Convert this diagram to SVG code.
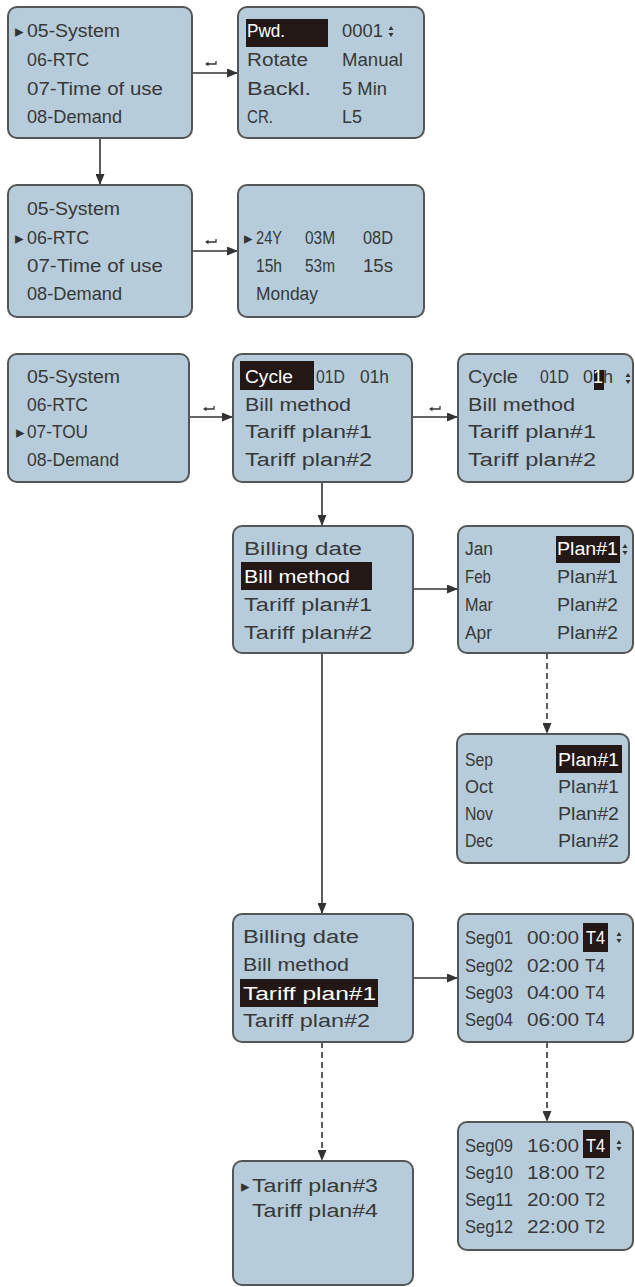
<svg xmlns="http://www.w3.org/2000/svg" width="635" height="1287" viewBox="0 0 635 1287">
  <style>
    .box { fill: #b6ccda; stroke: #555; stroke-width: 2; }
    .t { font-family: "Liberation Sans Narrow", "Liberation Sans", sans-serif; font-size: 18px; fill: #383838; }
    .w { fill: #fff; }
    .hl { fill: #231815; }
    .ptr { font-family: "DejaVu Sans", sans-serif; font-size: 17px; fill: #333; }
    .conn { stroke: #333; stroke-width: 1.6; fill: none; }
    .dash { stroke-dasharray: 6 4; }
    .ico { fill: #333; }
    .retl { stroke: #333; stroke-width: 1.3; fill: none; }
  </style>
  <defs>
    <marker id="arr" markerUnits="userSpaceOnUse" markerWidth="11" markerHeight="9" refX="11" refY="4.5" orient="auto">
      <path d="M0,0 L11,4.5 L0,9 Z" fill="#333"/>
    </marker>
    <!-- up/down adjust indicator -->
    <g id="updown" class="ico">
      <polygon points="0,0 -2.5,4 2.5,4"/>
      <polygon points="-2.5,7 2.5,7 0,11"/>
    </g>
    <!-- enter key symbol -->
    <g id="ret">
      <path class="retl" d="M2.5,0 H11 V-3"/>
      <polygon class="ico" points="0,0 3.5,-2.2 3.5,2.2"/>
    </g>
  </defs>

  <!-- connectors -->
  <g id="connectors">
    <line class="conn" x1="192" y1="73" x2="238" y2="73" marker-end="url(#arr)"/>
    <use href="#ret" x="205" y="64"/>
    <line class="conn" x1="100" y1="138" x2="100" y2="185" marker-end="url(#arr)"/>
    <line class="conn" x1="192" y1="251" x2="238" y2="251" marker-end="url(#arr)"/>
    <use href="#ret" x="205" y="242"/>
    <line class="conn" x1="189" y1="417" x2="233" y2="417" marker-end="url(#arr)"/>
    <use href="#ret" x="203" y="409"/>
    <line class="conn" x1="412" y1="417" x2="458" y2="417" marker-end="url(#arr)"/>
    <use href="#ret" x="429" y="409"/>
    <line class="conn" x1="322" y1="482" x2="322" y2="526" marker-end="url(#arr)"/>
    <line class="conn" x1="413" y1="589" x2="458" y2="589" marker-end="url(#arr)"/>
    <line class="conn dash" x1="547" y1="653" x2="547" y2="734" marker-end="url(#arr)"/>
    <line class="conn" x1="322" y1="653" x2="322" y2="914" marker-end="url(#arr)"/>
    <line class="conn" x1="413" y1="978" x2="458" y2="978" marker-end="url(#arr)"/>
    <line class="conn dash" x1="547" y1="1042" x2="547" y2="1122" marker-end="url(#arr)"/>
    <line class="conn dash" x1="322" y1="1042" x2="322" y2="1161" marker-end="url(#arr)"/>
  </g>

  <!-- main menu, System selected -->
  <g id="menu-system">
    <rect class="box" x="8" y="7" width="184" height="131" rx="9"/>
    <text class="ptr" x="15" y="37">▸</text>
    <text class="t" x="27" y="37" textLength="93" lengthAdjust="spacingAndGlyphs">05-System</text>
    <text class="t" x="27" y="66" textLength="62" lengthAdjust="spacingAndGlyphs">06-RTC</text>
    <text class="t" x="27" y="95" textLength="136" lengthAdjust="spacingAndGlyphs">07-Time of use</text>
    <text class="t" x="27" y="123" textLength="95" lengthAdjust="spacingAndGlyphs">08-Demand</text>
  </g>

  <!-- system settings -->
  <g id="system-settings">
    <rect class="box" x="238" y="7" width="186" height="131" rx="9"/>
    <rect class="hl" x="246" y="19" width="82" height="28"/>
    <text class="t w" x="247" y="37" textLength="38" lengthAdjust="spacingAndGlyphs">Pwd.</text>
    <text class="t" x="342" y="37" textLength="41" lengthAdjust="spacingAndGlyphs">0001</text>
    <use href="#updown" x="391" y="26"/>
    <text class="t" x="247" y="66" textLength="61" lengthAdjust="spacingAndGlyphs">Rotate</text>
    <text class="t" x="342" y="66" textLength="61" lengthAdjust="spacingAndGlyphs">Manual</text>
    <text class="t" x="247" y="95" textLength="64" lengthAdjust="spacingAndGlyphs">Backl.</text>
    <text class="t" x="342" y="95" textLength="45" lengthAdjust="spacingAndGlyphs">5 Min</text>
    <text class="t" x="247" y="123" textLength="26" lengthAdjust="spacingAndGlyphs">CR.</text>
    <text class="t" x="342" y="123" textLength="20" lengthAdjust="spacingAndGlyphs">L5</text>
  </g>

  <!-- main menu, RTC selected -->
  <g id="menu-rtc">
    <rect class="box" x="8" y="185" width="184" height="132" rx="9"/>
    <text class="t" x="27" y="215" textLength="93" lengthAdjust="spacingAndGlyphs">05-System</text>
    <text class="ptr" x="15" y="244">▸</text>
    <text class="t" x="27" y="244" textLength="62" lengthAdjust="spacingAndGlyphs">06-RTC</text>
    <text class="t" x="27" y="272" textLength="136" lengthAdjust="spacingAndGlyphs">07-Time of use</text>
    <text class="t" x="27" y="300" textLength="95" lengthAdjust="spacingAndGlyphs">08-Demand</text>
  </g>

  <!-- real time clock -->
  <g id="rtc-settings">
    <rect class="box" x="238" y="185" width="186" height="132" rx="9"/>
    <text class="ptr" x="244" y="244">▸</text>
    <text class="t" x="256" y="244" textLength="26" lengthAdjust="spacingAndGlyphs">24Y</text>
    <text class="t" x="305" y="244" textLength="30" lengthAdjust="spacingAndGlyphs">03M</text>
    <text class="t" x="363" y="244" textLength="30" lengthAdjust="spacingAndGlyphs">08D</text>
    <text class="t" x="256" y="272" textLength="26" lengthAdjust="spacingAndGlyphs">15h</text>
    <text class="t" x="305" y="272" textLength="30" lengthAdjust="spacingAndGlyphs">53m</text>
    <text class="t" x="363" y="272" textLength="30" lengthAdjust="spacingAndGlyphs">15s</text>
    <text class="t" x="256" y="300" textLength="62" lengthAdjust="spacingAndGlyphs">Monday</text>
  </g>

  <!-- main menu, TOU selected -->
  <g id="menu-tou">
    <rect class="box" x="8" y="354" width="181" height="128" rx="9"/>
    <text class="t" x="27" y="383" textLength="93" lengthAdjust="spacingAndGlyphs">05-System</text>
    <text class="t" x="27" y="411" textLength="61" lengthAdjust="spacingAndGlyphs">06-RTC</text>
    <text class="ptr" x="16" y="438">▸</text>
    <text class="t" x="27" y="438" textLength="61" lengthAdjust="spacingAndGlyphs">07-TOU</text>
    <text class="t" x="27" y="466" textLength="92" lengthAdjust="spacingAndGlyphs">08-Demand</text>
  </g>

  <!-- TOU menu, cycle selected -->
  <g id="tou-cycle">
    <rect class="box" x="233" y="354" width="179" height="128" rx="9"/>
    <rect class="hl" x="240" y="361" width="74" height="29"/>
    <text class="t w" x="245" y="383" textLength="48" lengthAdjust="spacingAndGlyphs">Cycle</text>
    <text class="t" x="316" y="383" textLength="29" lengthAdjust="spacingAndGlyphs">01D</text>
    <text class="t" x="360" y="383" textLength="29" lengthAdjust="spacingAndGlyphs">01h</text>
    <text class="t" x="245" y="411" textLength="106" lengthAdjust="spacingAndGlyphs">Bill method</text>
    <text class="t" x="245" y="438" textLength="127" lengthAdjust="spacingAndGlyphs">Tariff plan#1</text>
    <text class="t" x="245" y="466" textLength="127" lengthAdjust="spacingAndGlyphs">Tariff plan#2</text>
  </g>

  <!-- TOU menu, cycle edit -->
  <g id="tou-cycle-edit">
    <rect class="box" x="458" y="354" width="175" height="128" rx="9"/>
    <text class="t" x="468" y="383" textLength="50" lengthAdjust="spacingAndGlyphs">Cycle</text>
    <text class="t" x="540" y="383" textLength="29" lengthAdjust="spacingAndGlyphs">01D</text>
    <rect class="hl" x="594" y="370" width="10" height="20"/>
    <text class="t" x="583" y="383" textLength="30" lengthAdjust="spacingAndGlyphs">0<tspan class="w">1</tspan>h</text>
    <use href="#updown" x="628" y="373"/>
    <text class="t" x="468" y="411" textLength="107" lengthAdjust="spacingAndGlyphs">Bill method</text>
    <text class="t" x="468" y="438" textLength="128" lengthAdjust="spacingAndGlyphs">Tariff plan#1</text>
    <text class="t" x="468" y="466" textLength="128" lengthAdjust="spacingAndGlyphs">Tariff plan#2</text>
  </g>

  <!-- TOU menu, bill method selected -->
  <g id="tou-bill-method">
    <rect class="box" x="233" y="526" width="180" height="127" rx="9"/>
    <text class="t" x="244" y="555" textLength="118" lengthAdjust="spacingAndGlyphs">Billing date</text>
    <rect class="hl" x="241" y="562" width="131" height="28"/>
    <text class="t w" x="244" y="583" textLength="106" lengthAdjust="spacingAndGlyphs">Bill method</text>
    <text class="t" x="244" y="611" textLength="128" lengthAdjust="spacingAndGlyphs">Tariff plan#1</text>
    <text class="t" x="244" y="639" textLength="128" lengthAdjust="spacingAndGlyphs">Tariff plan#2</text>
  </g>

  <!-- monthly plan, Jan to Apr -->
  <g id="month-plan-1">
    <rect class="box" x="458" y="526" width="175" height="127" rx="9"/>
    <text class="t" x="465" y="555" textLength="28" lengthAdjust="spacingAndGlyphs">Jan</text>
    <rect class="hl" x="556" y="536" width="64" height="27"/>
    <text class="t w" x="557" y="555" textLength="61" lengthAdjust="spacingAndGlyphs">Plan#1</text>
    <use href="#updown" x="625" y="544"/>
    <text class="t" x="465" y="583" textLength="26" lengthAdjust="spacingAndGlyphs">Feb</text>
    <text class="t" x="557" y="583" textLength="61" lengthAdjust="spacingAndGlyphs">Plan#1</text>
    <text class="t" x="465" y="611" textLength="28" lengthAdjust="spacingAndGlyphs">Mar</text>
    <text class="t" x="557" y="611" textLength="61" lengthAdjust="spacingAndGlyphs">Plan#2</text>
    <text class="t" x="465" y="639" textLength="27" lengthAdjust="spacingAndGlyphs">Apr</text>
    <text class="t" x="557" y="639" textLength="61" lengthAdjust="spacingAndGlyphs">Plan#2</text>
  </g>

  <!-- monthly plan, Sep to Dec -->
  <g id="month-plan-2">
    <rect class="box" x="457" y="734" width="172" height="129" rx="9"/>
    <text class="t" x="465" y="766" textLength="28" lengthAdjust="spacingAndGlyphs">Sep</text>
    <rect class="hl" x="556" y="745" width="66" height="28"/>
    <text class="t w" x="558" y="766" textLength="61" lengthAdjust="spacingAndGlyphs">Plan#1</text>
    <text class="t" x="465" y="793" textLength="28" lengthAdjust="spacingAndGlyphs">Oct</text>
    <text class="t" x="558" y="793" textLength="61" lengthAdjust="spacingAndGlyphs">Plan#1</text>
    <text class="t" x="465" y="820" textLength="28" lengthAdjust="spacingAndGlyphs">Nov</text>
    <text class="t" x="558" y="820" textLength="61" lengthAdjust="spacingAndGlyphs">Plan#2</text>
    <text class="t" x="465" y="847" textLength="28" lengthAdjust="spacingAndGlyphs">Dec</text>
    <text class="t" x="558" y="847" textLength="61" lengthAdjust="spacingAndGlyphs">Plan#2</text>
  </g>

  <!-- TOU menu, tariff plan 1 selected -->
  <g id="tou-tariff-plan">
    <rect class="box" x="233" y="914" width="180" height="128" rx="9"/>
    <text class="t" x="243" y="943" textLength="116" lengthAdjust="spacingAndGlyphs">Billing date</text>
    <text class="t" x="243" y="971" textLength="106" lengthAdjust="spacingAndGlyphs">Bill method</text>
    <rect class="hl" x="240" y="979" width="138" height="28"/>
    <text class="t w" x="243" y="1000" textLength="133" lengthAdjust="spacingAndGlyphs">Tariff plan#1</text>
    <text class="t" x="243" y="1027" textLength="127" lengthAdjust="spacingAndGlyphs">Tariff plan#2</text>
  </g>

  <!-- tariff segments 1 to 4 -->
  <g id="segments-1">
    <rect class="box" x="458" y="914" width="175" height="128" rx="9"/>
    <text class="t" x="465" y="944" textLength="48" lengthAdjust="spacingAndGlyphs">Seg01</text>
    <text class="t" x="527" y="944" textLength="52" lengthAdjust="spacingAndGlyphs">00:00</text>
    <rect class="hl" x="583" y="923" width="25" height="29"/>
    <text class="t w" x="586" y="944" textLength="19" lengthAdjust="spacingAndGlyphs">T4</text>
    <use href="#updown" x="619" y="932"/>
    <text class="t" x="465" y="972" textLength="48" lengthAdjust="spacingAndGlyphs">Seg02</text>
    <text class="t" x="527" y="972" textLength="52" lengthAdjust="spacingAndGlyphs">02:00</text>
    <text class="t" x="585" y="972" textLength="20" lengthAdjust="spacingAndGlyphs">T4</text>
    <text class="t" x="465" y="999" textLength="48" lengthAdjust="spacingAndGlyphs">Seg03</text>
    <text class="t" x="527" y="999" textLength="52" lengthAdjust="spacingAndGlyphs">04:00</text>
    <text class="t" x="585" y="999" textLength="20" lengthAdjust="spacingAndGlyphs">T4</text>
    <text class="t" x="465" y="1026" textLength="48" lengthAdjust="spacingAndGlyphs">Seg04</text>
    <text class="t" x="527" y="1026" textLength="52" lengthAdjust="spacingAndGlyphs">06:00</text>
    <text class="t" x="585" y="1026" textLength="20" lengthAdjust="spacingAndGlyphs">T4</text>
  </g>

  <!-- more tariff plans -->
  <g id="tariff-plans-more">
    <rect class="box" x="233" y="1161" width="180" height="124" rx="9"/>
    <text class="ptr" x="241" y="1192">▸</text>
    <text class="t" x="252" y="1192" textLength="126" lengthAdjust="spacingAndGlyphs">Tariff plan#3</text>
    <text class="t" x="252" y="1217" textLength="126" lengthAdjust="spacingAndGlyphs">Tariff plan#4</text>
  </g>

  <!-- tariff segments 9 to 12 -->
  <g id="segments-2">
    <rect class="box" x="458" y="1122" width="175" height="128" rx="9"/>
    <text class="t" x="465" y="1152" textLength="48" lengthAdjust="spacingAndGlyphs">Seg09</text>
    <text class="t" x="527" y="1152" textLength="52" lengthAdjust="spacingAndGlyphs">16:00</text>
    <rect class="hl" x="583" y="1130" width="27" height="28"/>
    <text class="t w" x="586" y="1152" textLength="19" lengthAdjust="spacingAndGlyphs">T4</text>
    <use href="#updown" x="619" y="1140"/>
    <text class="t" x="465" y="1179" textLength="48" lengthAdjust="spacingAndGlyphs">Seg10</text>
    <text class="t" x="527" y="1179" textLength="52" lengthAdjust="spacingAndGlyphs">18:00</text>
    <text class="t" x="585" y="1179" textLength="20" lengthAdjust="spacingAndGlyphs">T2</text>
    <text class="t" x="465" y="1206" textLength="48" lengthAdjust="spacingAndGlyphs">Seg11</text>
    <text class="t" x="527" y="1206" textLength="52" lengthAdjust="spacingAndGlyphs">20:00</text>
    <text class="t" x="585" y="1206" textLength="20" lengthAdjust="spacingAndGlyphs">T2</text>
    <text class="t" x="465" y="1233" textLength="48" lengthAdjust="spacingAndGlyphs">Seg12</text>
    <text class="t" x="527" y="1233" textLength="52" lengthAdjust="spacingAndGlyphs">22:00</text>
    <text class="t" x="585" y="1233" textLength="20" lengthAdjust="spacingAndGlyphs">T2</text>
  </g>
</svg>
